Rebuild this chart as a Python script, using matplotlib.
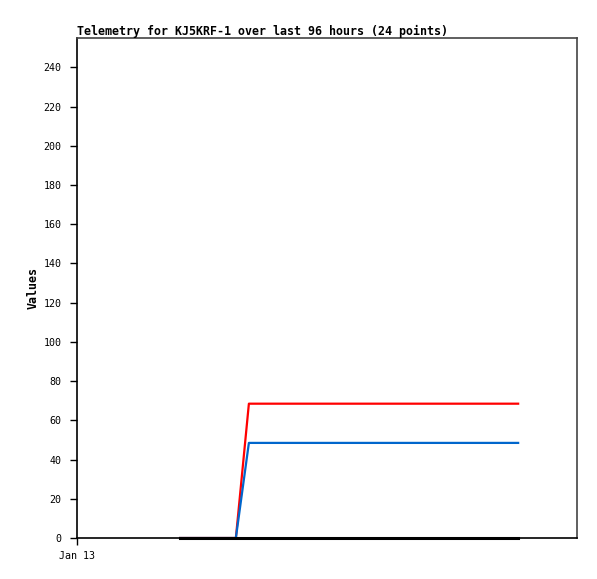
import matplotlib
matplotlib.use('Agg')
import matplotlib.pyplot as plt

# hours since Jan 13 00:00 (window of 96 hours)
hours = [19.8, 22.6, 25.4, 28.2, 30.5, 33.0, 35.9, 38.7, 41.6, 44.5, 47.4, 50.2,
         53.1, 56.0, 58.9, 61.7, 64.6, 67.5, 70.4, 73.2, 76.1, 79.0, 81.8, 84.7]
red_vals = [0, 0, 0, 0, 0, 68.5, 68.5, 68.5, 68.5, 68.5, 68.5, 68.5,
            68.5, 68.5, 68.5, 68.5, 68.5, 68.5, 68.5, 68.5, 68.5, 68.5, 68.5, 68.5]
blue_vals = [0, 0, 0, 0, 0, 48.5, 48.5, 48.5, 48.5, 48.5, 48.5, 48.5,
             48.5, 48.5, 48.5, 48.5, 48.5, 48.5, 48.5, 48.5, 48.5, 48.5, 48.5, 48.5]
black_vals = [0] * 24

y_ticks = list(range(0, 241, 20))
x_ticks = [0]
x_labels = ['Jan 13']

mono = 'DejaVu Sans Mono'

fig = plt.figure(figsize=(5.97, 5.79), dpi=100)
ax = fig.add_axes([0.129, 0.0708, 0.8375, 0.8636])

ax.plot(hours, red_vals, color='#ff0000', lw=1.6)
ax.plot(hours, blue_vals, color='#0066cc', lw=1.6)
ax.plot(hours, black_vals, color='black', lw=2.2, clip_on=False, zorder=5)

ax.set_xlim(0, 96)
ax.set_ylim(0, 255)
ax.set_yticks(y_ticks)
ax.set_xticks(x_ticks)
ax.set_xticklabels(x_labels)

for lab in ax.get_xticklabels() + ax.get_yticklabels():
    lab.set_family(mono)
    lab.set_fontsize(7.2)

ax.tick_params(direction='out', length=5, width=1)
ax.tick_params(axis='y', pad=6)
ax.tick_params(axis='x', pad=4)

ax.spines['left'].set_color('black')
ax.spines['bottom'].set_color('black')
ax.spines['top'].set_color('#444444')
ax.spines['right'].set_color('#444444')
for s in ax.spines.values():
    s.set_linewidth(1.2)

ax.set_title('Telemetry for KJ5KRF-1 over last 96 hours (24 points)',
             loc='left', family=mono, fontsize=8.4, fontweight='bold', pad=2)
ax.set_ylabel('Values', family=mono, fontsize=8.4, fontweight='bold', labelpad=3)

fig.savefig('out.png', dpi=100)
